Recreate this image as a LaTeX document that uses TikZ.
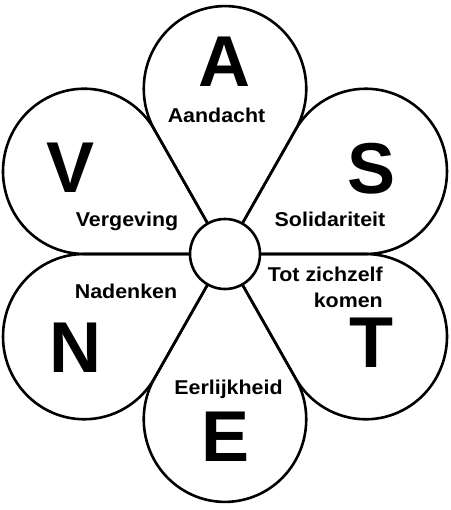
\documentclass[tikz,border=0pt]{standalone}
\usepackage{fontspec}
\usepackage{graphicx}
\usetikzlibrary{calc}
\setmainfont{Liberation Sans}
\tikzset{
  outline/.style={draw=black, line width=2.6pt, line join=round},
  bigletter/.style={font=\fontsize{72}{72}\selectfont\bfseries, inner sep=0pt, anchor=base},
  smalltext/.style={font=\fontsize{20}{26}\selectfont\bfseries, inner sep=0pt, anchor=base},
}
\newcommand{\wide}[1]{\scalebox{1.07}[1]{#1}}
\begin{document}
\begin{tikzpicture}[x=1pt,y=1pt]
\useasboundingbox (0,0) rectangle (450,-510);
\fill[white] (0,0) rectangle (450,-510);
\begin{scope}[shift={(225,-254)}, yscale=1.017]
  \coordinate (C) at (0,0);
  \def\dd{162.5}
  \def\rr{81.25}
  \foreach \t in {30,90,150,210,270,330}{
    \draw[outline] (C) -- ($(C)+({\t-30}:{\dd*cos(30)})$)
      arc[start angle=\t-120, end angle=\t+120, radius=\rr] -- cycle;
  }
  \node[outline, circle, fill=white, minimum size=70pt, inner sep=0pt] (hub) at (C) {};
\end{scope}
\node[bigletter] (A) at (224,-87) {A};
\node[smalltext] (aandacht) at (216.5,-123) {\wide{Aandacht}};
\node[bigletter] (V) at (71,-193) {V};
\node[smalltext] (vergeving) at (127,-226) {\wide{Vergeving}};
\node[bigletter] (S) at (372,-194) {S};
\node[smalltext] (solidariteit) at (330,-226) {\wide{Solidariteit}};
\node[smalltext, anchor=base east] (tot) at (383,-281) {\wide{Tot zichzelf}};
\node[smalltext, anchor=base east] (komen) at (383,-307) {\wide{komen}};
\node[bigletter] (T) at (371,-367) {T};
\node[smalltext] (nadenken) at (126,-298) {\wide{Nadenken}};
\node[bigletter] (N) at (75,-372) {N};
\node[smalltext] (eerlijkheid) at (228.5,-394) {\wide{Eerlijkheid}};
\node[bigletter] (E) at (226,-461) {E};
\end{tikzpicture}
\end{document}
